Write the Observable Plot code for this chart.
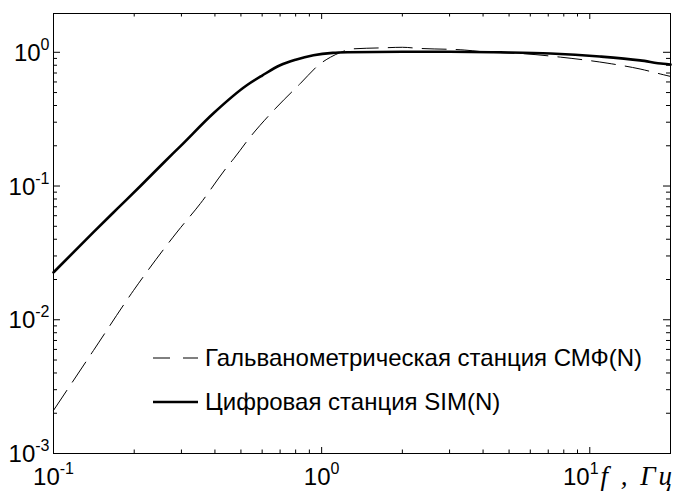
<!DOCTYPE html>
<html><head><meta charset="utf-8">
<script src="https://cdn.jsdelivr.net/npm/d3@7"></script>
<script src="https://cdn.jsdelivr.net/npm/@observablehq/plot@0.6"></script>
<style>
html,body{margin:0;padding:0;background:#fff;}
#chart svg{display:block;}
</style></head><body><div id="chart"></div>
<script>
// Galvanometric station CMF(N): frequency (Hz) and normalized response
const freqCMF = [0.1, 0.141, 0.199, 0.289, 0.353, 0.444, 0.47, 0.542, 0.681, 0.832, 0.987, 1.08, 1.18, 1.3, 1.7, 2.0, 2.3, 3.4, 4.2, 5.5, 7.77, 11.6, 15.4, 18.8, 20];
const gainCMF = [0.0021, 0.0059, 0.0166, 0.0453, 0.074, 0.139, 0.160, 0.233, 0.39, 0.583, 0.82, 0.92, 1.0, 1.06, 1.08, 1.09, 1.07, 1.04, 1.0, 0.98, 0.92, 0.83, 0.75, 0.68, 0.66];
// Digital station SIM(N)
const freqSIM = [0.1, 0.141, 0.173, 0.211, 0.258, 0.297, 0.395, 0.526, 0.6, 0.70, 0.8, 0.932, 1.1, 1.25, 2.0, 3.0, 4.64, 7.13, 10.9, 15.4, 18.8, 20];
const gainSIM = [0.0226, 0.0452, 0.0677, 0.100, 0.150, 0.198, 0.350, 0.567, 0.67, 0.80, 0.88, 0.95, 0.99, 1.0, 1.01, 1.01, 1.0, 0.98, 0.93, 0.87, 0.82, 0.81];

const seriesNames = ["Гальванометрическая станция СМФ(N)", "Цифровая станция SIM(N)"];
const xMajorTicks = [0.1, 1, 10];
const xMinorTicks = [0.2, 0.3, 0.4, 0.5, 0.6, 0.7, 0.8, 0.9, 2, 3, 4, 5, 6, 7, 8, 9];
const yMajorTicks = [0.001, 0.01, 0.1, 1];
const yMinorTicks = [0.002, 0.003, 0.004, 0.005, 0.006, 0.007, 0.008, 0.009,
  0.02, 0.03, 0.04, 0.05, 0.06, 0.07, 0.08, 0.09,
  0.2, 0.3, 0.4, 0.5, 0.6, 0.7, 0.8, 0.9];
const xUnitLabel = "f , Гц";

const W = 675, H = 491;
const mL = 53, mT = 13, mR = 5, mB = 38;
const plotH = H - mT - mB;
const plotW = W - mL - mR;

const dataCMF = freqCMF.map((f, i) => ({f, g: gainCMF[i]}));
const dataSIM = freqSIM.map((f, i) => ({f, g: gainSIM[i]}));
const expFmt = d => `10^${Math.round(Math.log10(d))}`;

const chart = Plot.plot({
  width: W, height: H,
  marginLeft: mL, marginRight: mR, marginTop: mT, marginBottom: mB,
  style: {fontFamily: "'Liberation Sans', Arial, sans-serif", fontSize: "24px", color: "#000", background: "#fff"},
  x: {type: "log", domain: [0.1, 20]},
  y: {type: "log", domain: [0.001, 1.95]},
  marks: [
    Plot.tickX(xMajorTicks, {x: d => d, insetTop: plotH - 6, stroke: "#000"}),
    Plot.tickX(xMajorTicks, {x: d => d, insetBottom: plotH - 6, stroke: "#000"}),
    Plot.tickX(xMinorTicks, {x: d => d, insetTop: plotH - 3.5, stroke: "#000"}),
    Plot.tickX(xMinorTicks, {x: d => d, insetBottom: plotH - 3.5, stroke: "#000"}),
    Plot.tickY(yMajorTicks, {y: d => d, insetRight: plotW - 7, stroke: "#000"}),
    Plot.tickY(yMajorTicks, {y: d => d, insetLeft: plotW - 7, stroke: "#000"}),
    Plot.tickY(yMinorTicks, {y: d => d, insetRight: plotW - 4, stroke: "#000"}),
    Plot.tickY(yMinorTicks, {y: d => d, insetLeft: plotW - 4, stroke: "#000"}),
    Plot.axisX(xMajorTicks, {tickSize: 0, tickPadding: 14, tickFormat: expFmt, label: null, fontSize: 24}),
    Plot.axisY(yMajorTicks, {tickSize: 0, tickPadding: 4, dy: 1, tickFormat: expFmt, label: null, fontSize: 24}),
    Plot.line(dataCMF, {x: "f", y: "g", stroke: "#000", strokeWidth: 1, strokeDasharray: "24,10", curve: "monotone-x"}),
    Plot.line(dataSIM, {x: "f", y: "g", stroke: "#000", strokeWidth: 2.6, curve: "monotone-x"}),
    Plot.frame({stroke: "#000", strokeWidth: 1}),
    Plot.text([xUnitLabel], {frameAnchor: "bottom-right", textAnchor: "start", lineAnchor: "bottom", dx: -70, dy: 31,
      fontFamily: "'Liberation Serif', 'Times New Roman', serif", fontStyle: "italic", fontSize: 27, fill: "#000"})
  ]
});

const svg = d3.select(chart);
// superscript exponents in tick labels
svg.selectAll('g[aria-label="x-axis tick label"] text, g[aria-label="y-axis tick label"] text').each(function() {
  const t = d3.select(this);
  const s = t.text();
  const parts = s.split("^");
  if (parts.length !== 2) return;
  t.text(null);
  t.append("tspan").text(parts[0]);
  t.append("tspan").attr("font-size", 16).attr("dy", -11).text(parts[1]);
});
// the last x label sits a little to the left, next to the unit label
svg.selectAll('g[aria-label="x-axis tick label"] text').filter(function() {
  return d3.select(this).text() === "101";
}).attr("transform", function() {
  const tr = d3.select(this).attr("transform") || "";
  return tr + " translate(-9,0)";
});
// extra letter spacing on the unit label
svg.selectAll("text").filter(function() { return d3.select(this).text() === xUnitLabel; })
  .attr("letter-spacing", 3);

// legend
const leg = svg.append("g")
  .attr("font-family", "'Liberation Sans', Arial, sans-serif")
  .attr("font-size", 24)
  .attr("text-anchor", "start");
const rows = [
  {name: seriesNames[0], dash: "17,13", w: 1, y: 358},
  {name: seriesNames[1], dash: null, w: 2.6, y: 402}
];
rows.forEach(r => {
  leg.append("line").attr("x1", 153).attr("x2", 198).attr("y1", r.y).attr("y2", r.y)
    .attr("stroke", "#000").attr("stroke-width", r.w).attr("stroke-dasharray", r.dash);
  leg.append("text").attr("x", 205).attr("y", r.y).attr("dy", "0.35em")
    .attr("text-anchor", "start").attr("fill", "#000").text(r.name);
});

document.getElementById("chart").appendChild(chart);
</script>
</body></html>
